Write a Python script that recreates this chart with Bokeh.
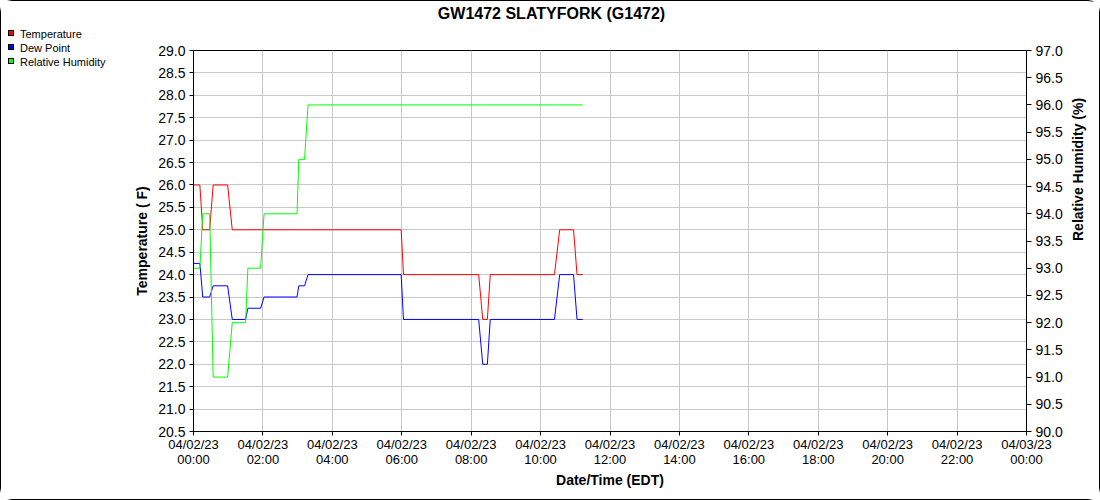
import math
import pandas as pd
from bokeh.plotting import figure
from bokeh.layouts import row
from bokeh.models import (Range1d, LinearAxis, FixedTicker, NumeralTickFormatter,
                          DatetimeTickFormatter, Div, Label)
from bokeh.embed import file_html
from bokeh.resources import INLINE

# ---- data ----
title_text = "GW1472 SLATYFORK (G1472)"
series_names = ["Temperature", "Dew Point", "Relative Humidity"]
series_colors = ["#ff0000", "#0000ff", "#00ff00"]
# minutes after 04/02/23 00:00 EDT
minutes = [0, 11, 16, 28, 34, 59, 67, 90, 94, 116, 122, 179, 182, 192, 198,
           359, 363, 493, 500, 508, 513, 624, 633, 657, 663, 673]
temperature = [26, 26, 25, 25, 26, 26, 25, 25, 25, 25, 25, 25, 25, 25, 25,
               25, 24, 24, 23, 23, 24, 24, 25, 25, 24, 24]
dew_point = [24.25, 24.25, 23.5, 23.5, 23.75, 23.75, 23.0, 23.0, 23.25, 23.25,
             23.5, 23.5, 23.75, 23.75, 24.0, 24.0, 23.0, 23.0, 22.0, 22.0,
             23.0, 23.0, 24.0, 24.0, 23.0, 23.0]
humidity = [93, 93, 94, 94, 91, 91, 92, 92, 93, 93, 94, 94, 95, 95, 96,
            96, 96, 96, 96, 96, 96, 96, 96, 96, 96, 96]
temp_ticks = [20.5 + 0.5 * i for i in range(18)]
rh_ticks = [90.0 + 0.5 * i for i in range(15)]
tick_hours = list(range(0, 25, 2))

FONT = "Liberation Sans"
day = pd.Timestamp("2023-04-02 00:00")
times = [day + pd.Timedelta(minutes=m) for m in minutes]
x_start = day
x_end = day + pd.Timedelta(hours=24)
tick_ms = [int((day + pd.Timedelta(hours=h)).value // 10**6) for h in tick_hours]

# ---------- legend strip (left) ----------
LEG_W, H = 130, 498
parts = []
for i, (name, col) in enumerate(zip(series_names, series_colors)):
    parts.append(
        f'<div style="position:absolute;left:7px;top:{29 + 14 * i}px;width:6px;height:6px;'
        f'background:{col};border:1px solid #000;"></div>'
        f'<div style="position:absolute;left:19px;top:{26 + 14 * i}px;height:14px;'
        f'line-height:14px;font-size:11px;white-space:nowrap;">{name}</div>')
legend_html = (f'<div style="position:relative;width:{LEG_W}px;height:{H}px;'
               f"font-family:'{FONT}',sans-serif;color:#000;margin:0;padding:0;\">"
               + "".join(parts) + "</div>")
legend_div = Div(text=legend_html, width=LEG_W, height=H,
                 styles={"margin": "0", "padding": "0", "background": "white"})

# ---------- main chart ----------
p = figure(width=1098 - LEG_W, height=H, output_backend="svg", toolbar_location=None,
           x_axis_type="datetime",
           x_range=Range1d(x_start, x_end), y_range=Range1d(20.5, 29.0),
           min_border_left=191 - LEG_W, min_border_right=73, min_border_top=49,
           min_border_bottom=68)
p.background_fill_color = "white"
p.border_fill_color = "white"
p.outline_line_color = "black"
p.outline_line_width = 1
p.outline_line_alpha = 1.0
p.title.text = ""

# chart title, placed in the panel above the plot area
p.add_layout(Label(x=358, y=37.5, x_units="screen", y_units="screen", text=title_text,
                   text_align="center", text_baseline="middle", text_font=FONT,
                   text_font_size="16px", text_font_style="bold", text_color="black"),
             "above")

p.extra_y_ranges = {"rh": Range1d(90.0, 97.0)}

p.line(times, temperature, line_color=series_colors[0], line_width=1)
p.line(times, dew_point, line_color=series_colors[1], line_width=1)
p.line(times, humidity, line_color=series_colors[2], line_width=1, y_range_name="rh")

xa = p.xaxis[0]
xa.ticker = FixedTicker(ticks=tick_ms)
fmt = "%m/%d/%y\n%H:%M"
xa.formatter = DatetimeTickFormatter(microseconds=fmt, milliseconds=fmt, seconds=fmt,
                                     minsec=fmt, minutes=fmt, hourmin=fmt, hours=fmt,
                                     days=fmt, months=fmt, years=fmt)
xa.axis_label = "Date/Time (EDT)"

ya = p.yaxis[0]
ya.ticker = FixedTicker(ticks=temp_ticks)
ya.formatter = NumeralTickFormatter(format="0.0")
ya.axis_label = "Temperature ( F)"

ra = LinearAxis(y_range_name="rh", ticker=FixedTicker(ticks=rh_ticks),
                formatter=NumeralTickFormatter(format="0.0"),
                axis_label="Relative Humidity (%)")
p.add_layout(ra, "right")

for ax, lsize in ((xa, "13px"), (ya, "14px"), (ra, "14px")):
    ax.axis_line_color = "black"
    ax.major_tick_line_color = "black"
    ax.major_tick_in = 0
    ax.major_tick_out = 4
    ax.minor_tick_line_color = None
    ax.major_label_text_font = FONT
    ax.major_label_text_font_size = lsize
    ax.major_label_text_color = "black"
    ax.major_label_standoff = 4
    ax.axis_label_text_font = FONT
    ax.axis_label_text_font_size = "14px"
    ax.axis_label_text_font_style = "bold"
    ax.axis_label_text_color = "black"
    ax.axis_label_standoff = 5
xa.major_label_standoff = 1
xa.major_label_text_line_height = 1.0
xa.axis_label_standoff = 2
ra.major_tick_out = 5
ra.axis_label_standoff = 12
ra.axis_label_orientation = math.pi / 2

p.xgrid.grid_line_color = "#c8c8c8"
p.ygrid.grid_line_color = "#c8c8c8"
p.xgrid.grid_line_alpha = 1.0
p.ygrid.grid_line_alpha = 1.0

lay = row(legend_div, p, spacing=0,
          styles={"border": "1px solid black", "border-radius": "12px"})
open("out.html", "w").write(file_html(lay, INLINE))
